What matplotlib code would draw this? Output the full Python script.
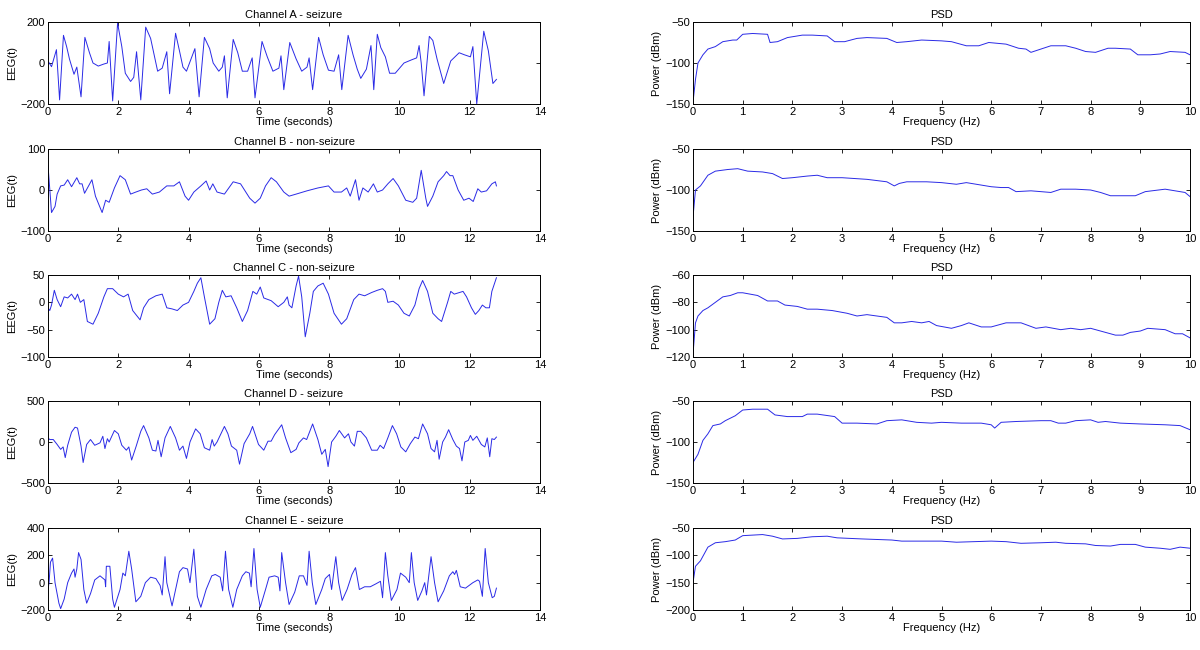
"""
EEG channels A-E with their power spectral densities, 5x2 grid.
"""

import matplotlib
matplotlib.use('Agg')
import matplotlib.pyplot as plt
import numpy as np

plt.rcParams['font.family'] = ['Liberation Sans', 'DejaVu Sans']

# ---- time series (seconds, EEG value) ----
chan_a_t = [0, 0.1, 0.24, 0.33, 0.44, 0.53, 0.61, 0.74, 0.82, 0.94, 1.05, 1.18, 1.28, 1.43, 1.59,
            1.69, 1.74, 1.84, 1.98, 2.1, 2.2, 2.35, 2.44, 2.52, 2.64, 2.78, 2.92, 3.02, 3.12, 3.25,
            3.38, 3.46, 3.63, 3.74, 3.84, 3.94, 4.18, 4.3, 4.45, 4.6, 4.7, 4.86, 4.96, 5.02, 5.1,
            5.27, 5.4, 5.53, 5.68, 5.81, 5.89, 6.09, 6.24, 6.4, 6.57, 6.63, 6.71, 6.88, 7.06, 7.22,
            7.37, 7.43, 7.53, 7.7, 7.83, 7.98, 8.14, 8.27, 8.36, 8.54, 8.68, 8.8, 8.9, 9.06, 9.19,
            9.27, 9.37, 9.47, 9.6, 9.72, 9.88, 10.13, 10.34, 10.49, 10.56, 10.62, 10.7, 10.85, 10.95,
            11.07, 11.26, 11.46, 11.7, 11.85, 12.02, 12.09, 12.2, 12.4, 12.53, 12.66, 12.76]
chan_a_v = [10, -18, 65, -180, 135, 80, 20, -55, -20, -165, 125, 50, 0, -15, -5,
            0, 105, -185, 195, 80, -50, -90, -70, 55, -180, 175, 120, 40, -40, -25,
            55, -150, 145, 60, -20, -40, 70, -165, 125, 70, 0, -40, -20, 35, -170,
            115, 50, -40, -40, 25, -170, 105, 30, -40, -25, 35, -130, 100, 20, -40,
            -20, 25, -130, 125, 40, -35, -40, 40, -130, 135, 40, -30, -75, -30, 85,
            -130, 140, 75, 30, -50, -50, 0, 15, 25, 85, 0, -160, 130, 110,
            20, -100, 10, 50, 40, 30, 80, -200, 155, 60, -100, -80]

chan_b_t = [0, 0.1, 0.2, 0.26, 0.36, 0.46, 0.56, 0.67, 0.82, 0.9, 0.97, 1.04, 1.25, 1.35, 1.54,
            1.64, 1.74, 1.89, 2.05, 2.2, 2.35, 2.5, 2.66, 2.81, 2.97, 3.17, 3.38, 3.58, 3.74, 3.9,
            4.0, 4.15, 4.35, 4.5, 4.6, 4.69, 4.81, 5.02, 5.27, 5.48, 5.74, 5.89, 6.04, 6.19, 6.35,
            6.5, 6.71, 6.86, 7.06, 7.37, 7.68, 7.98, 8.14, 8.35, 8.5, 8.6, 8.75, 8.85, 8.96, 9.11,
            9.26, 9.37, 9.52, 9.67, 9.82, 9.97, 10.18, 10.38, 10.49, 10.62, 10.75, 10.8, 10.95, 11.1,
            11.26, 11.34, 11.44, 11.52, 11.67, 11.83, 11.98, 12.1, 12.23, 12.33, 12.48, 12.63, 12.73,
            12.76]
chan_b_v = [60, -55, -40, -10, 10, 12, 25, 8, 30, 15, 15, -8, 25, -15, -55,
            -25, -30, 5, 35, 25, -10, -5, 0, 3, -10, -5, 10, 10, 20, -15,
            -25, -5, 10, 22, 0, 15, -5, -10, 20, 15, -20, -32, -20, 10, 30,
            20, -5, -15, -10, -2, 5, 10, -5, -5, 5, -15, 25, -25, 5, -5,
            15, -5, 0, 15, 28, 10, -25, -30, -20, 48, -20, -40, -15, 20,
            35, 45, 35, 35, 0, -25, -20, -28, 3, -5, -2, 15, 20,
            10]

chan_c_t = [0, 0.05, 0.1, 0.18, 0.26, 0.36, 0.46, 0.56, 0.67, 0.77, 0.84, 0.92, 1.02, 1.12, 1.28,
            1.43, 1.59, 1.69, 1.84, 2.0, 2.15, 2.28, 2.41, 2.62, 2.72, 2.87, 3.07, 3.25, 3.38, 3.53,
            3.68, 3.84, 4.0, 4.15, 4.25, 4.35, 4.45, 4.6, 4.75, 4.86, 4.96, 5.06, 5.21, 5.37, 5.53,
            5.68, 5.83, 5.94, 6.04, 6.14, 6.35, 6.55, 6.71, 6.81, 6.86, 6.94, 7.06, 7.13, 7.22, 7.32,
            7.45, 7.55, 7.68, 7.83, 7.98, 8.14, 8.35, 8.5, 8.7, 8.85, 9.01, 9.21, 9.37, 9.52, 9.6,
            9.67, 9.82, 9.97, 10.13, 10.28, 10.44, 10.56, 10.66, 10.8, 10.95, 11.1, 11.2, 11.37,
            11.46, 11.56, 11.71, 11.81, 11.91, 12.05, 12.16, 12.26, 12.36, 12.46, 12.56, 12.63, 12.76]
chan_c_v = [-10, -15, -5, 22, 5, -8, 10, 8, 15, 5, 15, 0, 5, -35, -40,
            -20, 10, 25, 25, 15, 10, 15, -15, -32, -10, 5, 12, 15, -10, -12,
            -15, -5, 0, 20, 35, 45, 10, -40, -30, 0, 22, 10, 12, -10, -35,
            -15, 20, 15, 28, 8, 3, -8, 0, 10, -5, -10, 30, 48, 10, -63,
            -20, 20, 30, 35, 15, -20, -40, -30, 5, 15, 12, 18, 22, 25, 20,
            0, 2, -5, -20, -25, -5, 25, 40, 20, -20, -30, -35, 0,
            20, 15, 18, 20, 10, -10, -22, -15, -5, -10, -10, 20, 45]

chan_d_t = [0, 0.05, 0.15, 0.26, 0.36, 0.43, 0.49, 0.56, 0.67, 0.77, 0.84, 0.94, 1.0, 1.1, 1.21,
            1.33, 1.48, 1.56, 1.62, 1.69, 1.74, 1.89, 2.0, 2.1, 2.23, 2.3, 2.38, 2.51, 2.64, 2.72,
            2.87, 2.97, 3.07, 3.13, 3.22, 3.33, 3.48, 3.63, 3.74, 3.84, 3.94, 4.04, 4.2, 4.33, 4.45,
            4.6, 4.67, 4.73, 4.81, 5.02, 5.12, 5.22, 5.37, 5.45, 5.58, 5.74, 5.82, 5.89, 5.99, 6.14,
            6.26, 6.35, 6.45, 6.65, 6.76, 6.91, 7.06, 7.14, 7.27, 7.36, 7.53, 7.68, 7.79, 7.89, 7.97,
            8.07, 8.19, 8.29, 8.44, 8.55, 8.62, 8.72, 8.8, 8.9, 9.06, 9.21, 9.37, 9.45, 9.55, 9.67,
            9.8, 9.92, 10.04, 10.18, 10.31, 10.44, 10.54, 10.66, 10.8, 10.9, 11.0, 11.07, 11.13,
            11.23, 11.31, 11.4, 11.52, 11.62, 11.71, 11.78, 11.86, 11.96, 12.02, 12.09, 12.2, 12.33,
            12.43, 12.5, 12.57, 12.63, 12.7, 12.76]
chan_d_v = [50, 30, 30, -30, -90, -60, -190, -40, 120, 180, 170, -50, -250, -30, 30,
            -40, -10, 70, -80, 40, 0, 140, 100, -40, -100, -60, -220, -50, 130, 200,
            50, -100, -110, 20, -180, 50, 190, 50, -100, -50, -200, 0, 160, 100, -70,
            -100, 30, -50, 0, 190, 100, -50, -100, -270, -20, 100, 190, 100, -30, -100,
            10, 10, 90, 210, 50, -130, -90, -10, 50, 30, 220, 30, -150, -90, -300,
            0, 70, 140, 50, 100, 0, -50, 130, 130, 50, -100, -100, -40, -80, 50,
            200, 100, -60, -120, -20, 60, 40, 220, 100, -80, -120, 20, -210,
            0, 60, 150, 30, -50, -80, -230, 0, 20, 80, 20, 70, -30,
            -60, 50, -180, 40, 30, 60]

chan_e_t = [0, 0.03, 0.07, 0.13, 0.2, 0.31, 0.36, 0.46, 0.56, 0.67, 0.74, 0.77, 0.82, 0.87, 0.94,
            1.02, 1.1, 1.21, 1.33, 1.48, 1.62, 1.64, 1.66, 1.76, 1.84, 1.89, 2.05, 2.13, 2.2, 2.3,
            2.38, 2.5, 2.64, 2.77, 2.92, 3.07, 3.19, 3.25, 3.33, 3.38, 3.53, 3.63, 3.74, 3.84, 3.97,
            4.04, 4.15, 4.25, 4.35, 4.5, 4.66, 4.76, 4.9, 4.97, 5.05, 5.14, 5.26, 5.37, 5.53, 5.63,
            5.73, 5.78, 5.86, 5.95, 6.04, 6.19, 6.29, 6.45, 6.55, 6.6, 6.65, 6.76, 6.86, 7.02, 7.15,
            7.27, 7.37, 7.43, 7.52, 7.62, 7.79, 7.89, 8.01, 8.07, 8.19, 8.27, 8.37, 8.51, 8.65, 8.75,
            8.86, 9.01, 9.17, 9.32, 9.46, 9.52, 9.6, 9.67, 9.77, 9.93, 10.03, 10.18, 10.28, 10.34,
            10.42, 10.52, 10.64, 10.72, 10.77, 10.9, 11.0, 11.1, 11.26, 11.42, 11.52, 11.57, 11.62,
            11.73, 11.88, 12.09, 12.23, 12.28, 12.36, 12.44, 12.53, 12.64, 12.7, 12.76]
chan_e_v = [-50, 0, 150, 180, 0, -150, -190, -120, 0, 70, 100, 40, 100, 220, 170,
            -50, -150, -80, 20, 50, 20, -30, 120, 120, -120, -180, -50, 70, 50, 230,
            100, -140, -100, 0, 40, 30, -20, -90, 190, 0, -170, -50, 80, 110, 100,
            0, 245, -100, -180, -50, 50, 60, 40, -60, 230, -50, -180, -50, 50, 80,
            70, -30, 250, -50, -180, -50, 40, 50, 40, -60, 220, 0, -160, -70, 50,
            50, -20, 230, 0, -160, -50, 30, 60, -50, 190, 0, -130, -50, 60, 110,
            -50, -30, -30, -10, 10, -110, 220, 50, -130, -50, 70, 40, 0, 220,
            0, -130, -60, 0, -90, 190, 0, -140, -60, 50, 80, 60, 90,
            -30, -40, 0, 20, 10, -100, 250, 0, -110, -100, -40]

# ---- PSD curves (Hz, dBm) ----
psd_a_f = [0, 0.05, 0.1, 0.2, 0.3, 0.45, 0.6, 0.8, 0.88, 1.0, 1.2, 1.5, 1.55, 1.7, 1.9, 2.0, 2.2,
           2.4, 2.7, 2.85, 3.05, 3.3, 3.5, 3.9, 4.1, 4.3, 4.6, 5.0, 5.2, 5.5, 5.75, 5.95, 6.3,
           6.55, 6.7, 6.8, 7.0, 7.2, 7.5, 7.7, 7.9, 8.1, 8.35, 8.5, 8.8, 8.95, 9.2, 9.4, 9.6,
           9.9, 10.0]
psd_a_p = [-148, -120, -100, -90, -83, -80, -74, -72, -72, -65, -64, -65, -75, -74, -69, -68, -66,
           -66, -67, -74, -74, -70, -69, -70, -75, -74, -72, -73, -74, -79, -79, -75, -77,
           -82, -83, -87, -83, -79, -79, -82, -86, -87, -82, -82, -83, -90, -90, -89, -86,
           -87, -90]

psd_b_f = [0, 0.05, 0.15, 0.3, 0.45, 0.7, 0.9, 1.1, 1.4, 1.6, 1.8, 2.0, 2.3, 2.5, 2.7, 3.0, 3.5,
           3.9, 4.05, 4.15, 4.3, 4.7, 5.0, 5.3, 5.5, 5.7, 6.0, 6.2, 6.35, 6.5, 6.8, 7.2, 7.4,
           7.7, 8.0, 8.2, 8.4, 8.7, 8.9, 9.1, 9.5, 9.7, 9.9, 10.0]
psd_b_p = [-133, -100, -95, -82, -77, -75, -74, -77, -78, -80, -86, -85, -83, -82, -85, -85, -87,
           -90, -95, -92, -90, -90, -91, -93, -91, -93, -96, -97, -97, -102, -101, -103, -99,
           -99, -100, -103, -107, -107, -107, -102, -99, -101, -103, -108]

psd_c_f = [0, 0.05, 0.1, 0.2, 0.3, 0.45, 0.6, 0.75, 0.9, 1.0, 1.3, 1.5, 1.7, 1.85, 2.1, 2.3, 2.5,
           2.8, 3.1, 3.3, 3.5, 3.9, 4.05, 4.2, 4.4, 4.6, 4.75, 4.9, 5.2, 5.4, 5.55, 5.8, 6.0,
           6.3, 6.6, 6.9, 7.1, 7.4, 7.6, 7.8, 8.0, 8.3, 8.5, 8.65, 8.8, 9.0, 9.15, 9.5, 9.7,
           9.85, 10.0]
psd_c_p = [-118, -95, -90, -86, -84, -80, -76, -75, -73, -73, -75, -79, -79, -82, -83, -85, -85,
           -86, -88, -90, -89, -91, -95, -95, -94, -95, -94, -97, -99, -97, -95, -98, -98,
           -95, -95, -99, -98, -100, -99, -100, -99, -102, -104, -104, -102, -101, -99, -100, -103,
           -103, -106]

psd_d_f = [0, 0.1, 0.2, 0.3, 0.4, 0.55, 0.65, 0.85, 1.0, 1.2, 1.5, 1.65, 1.9, 2.2, 2.3, 2.5, 2.85,
           3.0, 3.3, 3.7, 3.9, 4.2, 4.5, 4.8, 5.0, 5.4, 5.8, 6.0, 6.07, 6.2, 6.5, 7.0, 7.2,
           7.35, 7.5, 7.7, 8.0, 8.15, 8.3, 8.6, 9.0, 9.5, 9.8, 10.0]
psd_d_p = [-125, -115, -98, -90, -80, -78, -74, -68, -61, -60, -60, -67, -69, -69, -66, -66, -69,
           -77, -77, -78, -74, -73, -76, -77, -76, -77, -77, -79, -83, -76, -75, -74, -74,
           -77, -77, -74, -73, -76, -75, -77, -78, -79, -80, -85]

psd_e_f = [0, 0.05, 0.15, 0.3, 0.45, 0.65, 0.85, 1.0, 1.2, 1.4, 1.6, 1.8, 2.1, 2.4, 2.7, 2.9, 3.4,
           4.0, 4.2, 5.0, 5.3, 6.0, 6.3, 6.6, 7.0, 7.3, 7.5, 7.9, 8.1, 8.4, 8.6, 8.9, 9.1,
           9.4, 9.6, 9.8, 10.0]
psd_e_p = [-150, -120, -110, -85, -77, -75, -72, -64, -63, -62, -65, -70, -69, -66, -65, -68, -70,
           -72, -74, -74, -76, -74, -75, -78, -77, -76, -78, -79, -82, -83, -80, -80, -85,
           -87, -89, -85, -87]

titles = ['Channel A - seizure', 'Channel B - non-seizure', 'Channel C - non-seizure',
          'Channel D - seizure', 'Channel E - seizure']
eeg_ylims = [(-200, 200), (-100, 100), (-100, 50), (-500, 500), (-200, 400)]
eeg_yticks = [[-200, 0, 200], [-100, 0, 100], [-100, -50, 0, 50], [-500, 0, 500], [-200, 0, 200, 400]]
psd_ylims = [(-150, -50), (-150, -50), (-120, -60), (-150, -50), (-200, -50)]
psd_yticks = [[-150, -100, -50], [-150, -100, -50], [-120, -100, -80, -60], [-150, -100, -50],
              [-200, -150, -100, -50]]

eeg = [(chan_a_t, chan_a_v), (chan_b_t, chan_b_v), (chan_c_t, chan_c_v),
       (chan_d_t, chan_d_v), (chan_e_t, chan_e_v)]
psd = [(psd_a_f, psd_a_p), (psd_b_f, psd_b_p), (psd_c_f, psd_c_p),
       (psd_d_f, psd_d_p), (psd_e_f, psd_e_p)]

LINE = '#2a2ae6'
FS = 8


def style(ax):
    ax.tick_params(direction='in', top=True, right=True, length=3, width=0.6,
                   labelsize=FS, pad=2)
    for s in ax.spines.values():
        s.set_linewidth(0.7)


fig = plt.figure(figsize=(12, 6.5), dpi=100)
W, H = 1200.0, 650.0
row_tops = [22, 149, 275, 401, 528]
ax_h = 82

for i in range(5):
    bottom = 1 - (row_tops[i] + ax_h) / H
    # left: EEG trace
    ax = fig.add_axes([48 / W, bottom, 492 / W, ax_h / H])
    t, v = eeg[i]
    ax.plot(t, v, color=LINE, linewidth=0.7)
    ax.set_xlim(0, 14)
    ax.set_xticks(np.arange(0, 15, 2))
    ax.set_ylim(*eeg_ylims[i])
    ax.set_yticks(eeg_yticks[i])
    ax.set_title(titles[i], fontsize=FS, pad=3)
    ax.set_xlabel('Time (seconds)', fontsize=FS, labelpad=0)
    ax.set_ylabel('EEG(t)', fontsize=FS, labelpad=2)
    style(ax)

    # right: PSD
    ax2 = fig.add_axes([693 / W, bottom, 497 / W, ax_h / H])
    f, p = psd[i]
    ax2.plot(f, p, color=LINE, linewidth=0.7)
    ax2.set_xlim(0, 10)
    ax2.set_xticks(np.arange(0, 11, 1))
    ax2.set_ylim(*psd_ylims[i])
    ax2.set_yticks(psd_yticks[i])
    ax2.set_title('PSD', fontsize=FS, pad=3)
    ax2.set_xlabel('Frequency (Hz)', fontsize=FS, labelpad=0)
    ax2.set_ylabel('Power (dBm)', fontsize=FS, labelpad=2)
    style(ax2)

fig.savefig('out.png', dpi=100)
